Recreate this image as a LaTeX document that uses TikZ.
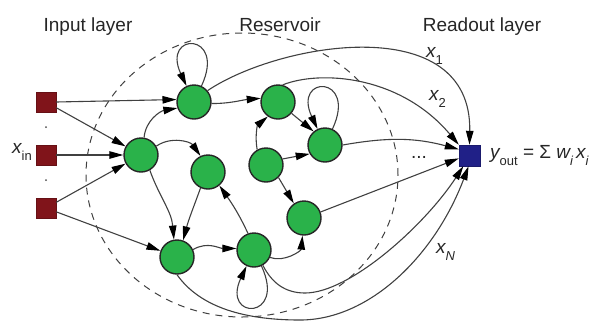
\documentclass[tikz,border=0pt]{standalone}
\usepackage{fontspec}
\setmainfont{Liberation Sans}
\usetikzlibrary{arrows.meta}
\definecolor{rgreen}{RGB}{42,178,74}
\definecolor{ired}{RGB}{128,20,26}
\definecolor{oblue}{RGB}{32,32,135}
\newcommand{\lsub}[1]{\raisebox{-0.42em}{\fontsize{13}{13}\selectfont #1}}
\begin{document}
\begin{tikzpicture}[x=1pt,y=1pt,
  font=\fontsize{19}{22}\selectfont,
  neuron/.style={circle, draw=black!85, line width=1.4pt, fill=rgreen, minimum size=34pt, inner sep=0pt},
  inbox/.style={rectangle, fill=ired, draw=ired!80!black, line width=0.4pt, minimum size=20pt, inner sep=0pt},
  outbox/.style={rectangle, fill=oblue, draw=oblue!80!black, line width=0.4pt, minimum size=21pt, inner sep=0pt},
  dotn/.style={circle, fill=black!70, minimum size=2pt, inner sep=0pt},
  conn/.style={draw=black!75, line width=1.1pt, -{Triangle[length=14pt,width=7.5pt,color=black]}},
  resv/.style={draw=black!75, line width=1pt, dash pattern=on 7pt off 6pt},
  lbl/.style={text=black!85, inner sep=0pt}
]
\useasboundingbox (0,-322) rectangle (605,0);

% titles
\node[lbl, anchor=base] (tin) at (88,-31) {Input layer};
\node[lbl, anchor=base] (tres) at (280,-31) {Reservoir};
\node[lbl, anchor=base] (tout) at (482,-31) {Readout layer};

% reservoir boundary
\draw[resv] (242,-175) ellipse [x radius=156, y radius=142];

% input layer
\node[inbox] (S1) at (46,-102) {};
\node[inbox] (S2) at (46,-155) {};
\node[inbox] (S3) at (46,-208) {};
\node[dotn] (d1) at (46,-127) {};
\node[dotn] (d2) at (46,-180) {};
\node[lbl, anchor=base west] (lxin) at (12,-153) {{\itshape x}\lsub{in}};

% reservoir neurons
\node[neuron] (N1) at (194,-102) {};
\node[neuron] (N2) at (278,-102) {};
\node[neuron] (N3) at (141,-155) {};
\node[neuron] (N4) at (208,-172) {};
\node[neuron] (N5) at (266,-165) {};
\node[neuron] (N6) at (325,-145) {};
\node[neuron] (N7) at (304,-218) {};
\node[neuron] (N8) at (177,-257) {};
\node[neuron] (N9) at (254,-250) {};

% readout
\node[outbox] (O) at (469.5,-155.5) {};
\node[lbl, anchor=base west] (ly) at (490,-158) {{\itshape y}\lsub{out} = Σ {\itshape w}\lsub{\itshape i}\,{\itshape x}\lsub{\itshape i}};
\node[lbl, anchor=base west] (lx1) at (426,-57) {{\itshape x}\lsub{1}};
\node[lbl, anchor=base west] (lx2) at (429,-100) {{\itshape x}\lsub{2}};
\node[lbl, anchor=base west] (lxN) at (436,-253) {{\itshape x}\lsub{\itshape N}};
\node[lbl, anchor=base] (ldots) at (419,-158) {...};

% input connections
\draw[conn] (S1.east) -- (N1.172);
\draw[conn] (S1) -- (N3);
\draw[conn] (S2) -- (N3);
\draw[conn] (S3) -- (N3);
\draw[conn] (S3) -- (N8);

% reservoir connections
\draw[conn] (N3.80) to[out=85,in=190] (N1.200);
\draw[conn] (N3.30) to[out=35,in=125] (N4.115);
\draw[conn] (N3.-60) to[out=-70,in=95] (N8.100);
\draw[conn] (N4.-115) to[out=-110,in=75] (N8.70);
\draw[conn] (N9.110) to[out=115,in=-55] (N4.-50);
\draw[conn] (N8.25) to[out=30,in=180] (N9.175);
\draw[conn] (N9) to[out=-65,in=-115,min distance=60pt] (N9);
\draw[conn] (N9.-25) to[out=-20,in=-95] (N7.-95);
\draw[conn] (N1.-5) to[out=0,in=185] (N2.168);
\draw[conn] (N1) to[out=65,in=115,min distance=60pt] (N1);
\draw[conn] (N2.-40) -- (N6.130);
\draw[conn] (N6) to[out=65,in=115,min distance=60pt] (N6);
\draw[conn] (N5.120) to[out=100,in=-140] (N2.-125);
\draw[conn] (N5.20) -- (N6.-150);
\draw[conn] (N5.-45) -- (N7.125);

% readout connections
\draw[conn] (N1.40) .. controls (280,-42) and (472,-10) .. (O.north);
\draw[conn] (N2.75) .. controls (320,-70) and (400,-75) .. (O.north west);
\draw[conn] (N6.east) to[out=10,in=165] (O.150);
\draw[conn] (N7.20) -- (O.-165);
\draw[conn] (N9.-60) .. controls (272,-283) and (285,-293) .. (305,-293) .. controls (350,-293) and (425,-225) .. (O.-120);
\draw[conn] (N8.-90) .. controls (195,-300) and (230,-320) .. (300,-320) .. controls (370,-320) and (435,-255) .. (O.-95);
\end{tikzpicture}
\end{document}
